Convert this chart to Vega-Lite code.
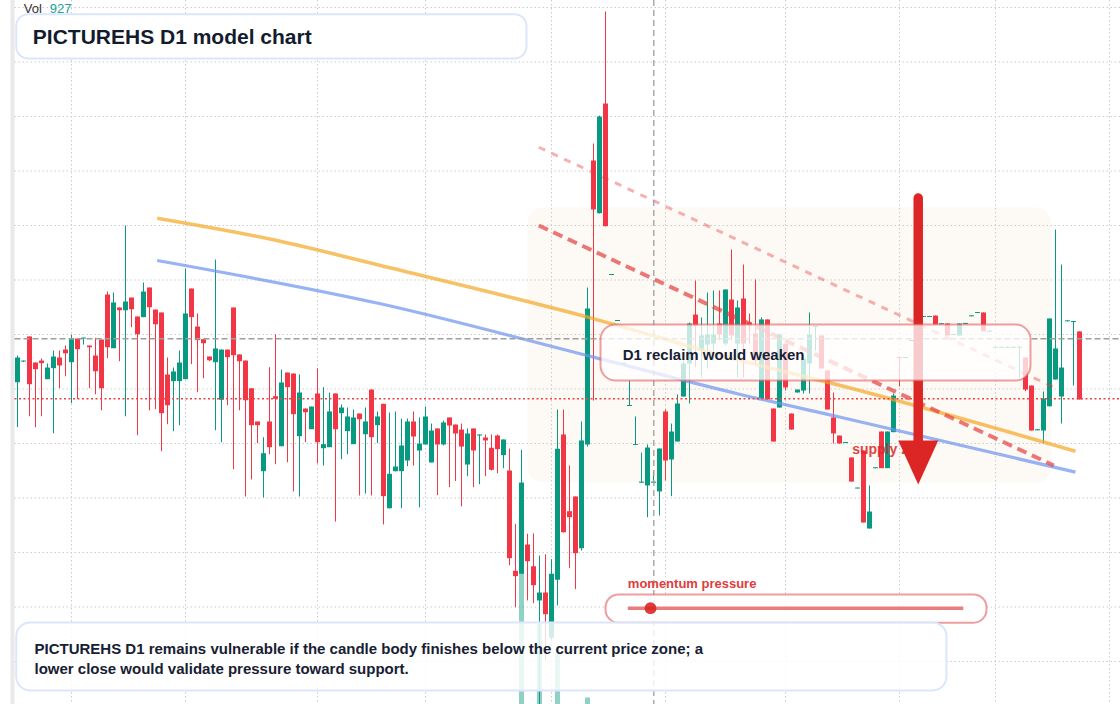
{
"$schema": "https://vega.github.io/schema/vega-lite/v6.json",
"width": 1120, "height": 704,
"autosize": {"type": "none"},
"padding": 0,
"background": "#ffffff",
"config": {"view": {"stroke": null}, "scale": {"continuousPadding": 0}, "axis": {"disable": true, "grid": false, "labels": false, "ticks": false, "domain": false, "title": null}},
"data": {"values": [{}]},
"datasets": {
"candles": [
{"t":0,"o":6.062,"h":6.307,"l":5.65,"c":6.289},{"t":1,"o":6.252,"h":6.261,"l":6.246,"c":6.261},{"t":2,"o":6.482,"h":6.482,"l":5.75,"c":6.044},{"t":3,"o":6.243,"h":6.243,"l":5.65,"c":6.182},{"t":4,"o":6.261,"h":6.28,"l":5.75,"c":6.237},{"t":5,"o":6.09,"h":6.234,"l":6.09,"c":6.197},{"t":6,"o":6.191,"h":6.353,"l":5.594,"c":6.298},{"t":7,"o":6.289,"h":6.353,"l":6.007,"c":6.216},{"t":8,"o":6.362,"h":6.399,"l":6.117,"c":6.328},{"t":9,"o":6.246,"h":6.497,"l":5.87,"c":6.457},
{"t":10,"o":6.463,"h":6.463,"l":5.91,"c":6.365},{"t":11,"o":6.463,"h":6.472,"l":6.408,"c":6.472},{"t":12,"o":6.399,"h":6.399,"l":6.007,"c":6.383},{"t":13,"o":6.307,"h":6.47,"l":5.952,"c":6.163},{"t":14,"o":6.454,"h":6.454,"l":5.805,"c":6.007},{"t":15,"o":6.867,"h":6.894,"l":6.283,"c":6.383},{"t":16,"o":6.374,"h":6.885,"l":6.374,"c":6.794},{"t":17,"o":6.748,"h":6.748,"l":6.255,"c":6.723},{"t":18,"o":6.723,"h":7.5,"l":5.75,"c":6.803},{"t":19,"o":6.839,"h":6.839,"l":6.567,"c":6.732},
{"t":20,"o":6.665,"h":6.665,"l":5.576,"c":6.503},{"t":21,"o":6.659,"h":6.977,"l":6.659,"c":6.894},{"t":22,"o":6.931,"h":6.931,"l":5.805,"c":6.75},{"t":23,"o":6.729,"h":6.729,"l":5.815,"c":6.594},{"t":24,"o":6.702,"h":6.702,"l":5.429,"c":5.778},{"t":25,"o":6.133,"h":6.289,"l":5.677,"c":5.851},{"t":26,"o":6.072,"h":6.197,"l":5.613,"c":6.161},{"t":27,"o":6.072,"h":6.353,"l":5.668,"c":6.243},{"t":28,"o":6.09,"h":7.106,"l":6.09,"c":6.693},{"t":29,"o":6.922,"h":6.922,"l":6.228,"c":6.659},
{"t":30,"o":6.573,"h":6.693,"l":5.971,"c":6.448},{"t":31,"o":6.457,"h":6.457,"l":6.099,"c":6.42},{"t":32,"o":6.298,"h":6.298,"l":6.255,"c":6.264},{"t":33,"o":6.246,"h":7.188,"l":5.622,"c":6.372},{"t":34,"o":5.901,"h":6.362,"l":5.512,"c":6.362},{"t":35,"o":6.362,"h":6.362,"l":5.851,"c":6.292},{"t":36,"o":6.748,"h":6.748,"l":5.264,"c":6.31},{"t":37,"o":6.317,"h":6.317,"l":5.805,"c":6.255},{"t":38,"o":6.261,"h":6.261,"l":5.014,"c":5.897},{"t":39,"o":6.007,"h":6.007,"l":5.17,"c":5.668},
{"t":40,"o":5.702,"h":5.702,"l":5.503,"c":5.668},{"t":41,"o":5.246,"h":5.558,"l":5.005,"c":5.411},{"t":42,"o":5.702,"h":6.2,"l":5.402,"c":5.466},{"t":43,"o":5.934,"h":6.5,"l":5.31,"c":5.91},{"t":44,"o":5.475,"h":6.179,"l":5.475,"c":6.06},{"t":45,"o":6.151,"h":6.151,"l":5.328,"c":6.017},{"t":46,"o":6.142,"h":6.142,"l":5.06,"c":5.769},{"t":47,"o":5.567,"h":6.133,"l":5.014,"c":5.968},{"t":48,"o":5.821,"h":5.821,"l":5.512,"c":5.787},{"t":49,"o":5.631,"h":5.839,"l":5.631,"c":5.839},
{"t":50,"o":5.959,"h":6.188,"l":5.317,"c":5.512},{"t":51,"o":5.457,"h":6.017,"l":5.298,"c":5.494},{"t":52,"o":5.466,"h":5.968,"l":5.466,"c":5.794},{"t":53,"o":5.959,"h":5.959,"l":4.784,"c":5.631},{"t":54,"o":5.778,"h":5.858,"l":5.356,"c":5.83},{"t":55,"o":5.613,"h":5.83,"l":5.402,"c":5.748},{"t":56,"o":5.494,"h":5.812,"l":5.494,"c":5.739},{"t":57,"o":5.775,"h":5.775,"l":5.023,"c":5.723},{"t":58,"o":5.585,"h":5.83,"l":5.041,"c":5.702},{"t":59,"o":5.995,"h":5.995,"l":5.023,"c":5.558},
{"t":60,"o":5.668,"h":5.794,"l":5.503,"c":5.748},{"t":61,"o":5.864,"h":5.864,"l":4.757,"c":5.017},{"t":62,"o":4.906,"h":5.784,"l":4.904,"c":5.222},{"t":63,"o":5.246,"h":5.794,"l":5.243,"c":5.289},{"t":64,"o":5.246,"h":5.729,"l":4.906,"c":5.482},{"t":65,"o":5.344,"h":5.729,"l":5.292,"c":5.702},{"t":66,"o":5.702,"h":5.794,"l":5.298,"c":5.564},{"t":67,"o":5.436,"h":5.739,"l":4.914,"c":5.5},{"t":68,"o":5.491,"h":5.839,"l":5.491,"c":5.748},{"t":69,"o":5.326,"h":5.683,"l":5.326,"c":5.619},
{"t":70,"o":5.638,"h":5.638,"l":5.026,"c":5.491},{"t":71,"o":5.491,"h":5.711,"l":5.482,"c":5.693},{"t":72,"o":5.739,"h":5.739,"l":5.099,"c":5.665},{"t":73,"o":5.674,"h":5.674,"l":5.156,"c":5.592},{"t":74,"o":5.628,"h":5.683,"l":4.924,"c":5.472},{"t":75,"o":5.307,"h":5.638,"l":5.2,"c":5.592},{"t":76,"o":5.638,"h":5.638,"l":5.099,"c":5.436},{"t":77,"o":5.573,"h":5.583,"l":5.127,"c":5.583},{"t":78,"o":5.555,"h":5.583,"l":5.2,"c":5.528},{"t":79,"o":5.461,"h":5.583,"l":5.252,"c":5.259},
{"t":80,"o":5.573,"h":5.583,"l":5.227,"c":5.448},{"t":81,"o":5.393,"h":5.537,"l":5.274,"c":5.537},{"t":82,"o":5.252,"h":5.454,"l":4.383,"c":4.448},{"t":83,"o":4.332,"h":4.763,"l":3.998,"c":4.283},{"t":84,"o":4.305,"h":5.442,"l":4.305,"c":5.142,"v":20450},{"t":85,"o":4.573,"h":4.672,"l":4.06,"c":4.42},{"t":86,"o":4.374,"h":4.675,"l":4.035,"c":4.2},{"t":87,"o":4.06,"h":4.472,"l":3.11,"c":4.133,"v":11360},{"t":88,"o":4.133,"h":4.482,"l":3.509,"c":3.934},{"t":89,"o":3.718,"h":4.439,"l":3.693,"c":4.305},
{"t":90,"o":4.25,"h":5.812,"l":4.014,"c":5.451,"v":7240},{"t":91,"o":5.583,"h":5.812,"l":4.683,"c":4.686},{"t":92,"o":4.879,"h":5.298,"l":4.356,"c":4.824},{"t":93,"o":5.014,"h":5.014,"l":4.164,"c":4.494},{"t":94,"o":4.539,"h":5.702,"l":4.518,"c":5.528},{"t":95,"o":5.491,"h":6.931,"l":5.472,"c":6.739,"v":927},{"t":96,"o":8.096,"h":8.252,"l":5.894,"c":7.647},{"t":97,"o":7.613,"h":8.509,"l":7.61,"c":8.5},{"t":98,"o":8.619,"h":9.463,"l":7.491,"c":7.494},{"t":99,"o":7.046,"h":7.055,"l":7.046,"c":7.055},
{"t":100,"o":6.624,"h":6.633,"l":6.624,"c":6.633},{"t":101,"o":6.229,"h":6.239,"l":6.229,"c":6.239},{"t":102,"o":5.844,"h":6.078,"l":5.844,"c":5.853},{"t":103,"o":5.486,"h":5.748,"l":5.486,"c":5.495},{"t":104,"o":5.14,"h":5.417,"l":5.14,"c":5.15},{"t":105,"o":5.115,"h":5.491,"l":4.824,"c":5.463},{"t":106,"o":5.14,"h":5.252,"l":5.14,"c":5.15},{"t":107,"o":5.06,"h":5.454,"l":4.839,"c":5.454},{"t":108,"o":5.794,"h":5.812,"l":5.161,"c":5.344},{"t":109,"o":5.353,"h":5.683,"l":5.017,"c":5.61},
{"t":110,"o":5.518,"h":5.95,"l":5.518,"c":5.867},{"t":111,"o":5.931,"h":6.261,"l":5.931,"c":6.234},{"t":112,"o":6.234,"h":6.61,"l":5.867,"c":6.601},{"t":113,"o":6.683,"h":6.995,"l":6.2,"c":6.583},{"t":114,"o":6.353,"h":6.656,"l":6.108,"c":6.491},{"t":115,"o":6.408,"h":6.885,"l":6.188,"c":6.5},{"t":116,"o":6.417,"h":6.904,"l":6.261,"c":6.5},{"t":117,"o":6.601,"h":6.904,"l":6.445,"c":6.5},{"t":118,"o":6.417,"h":6.913,"l":6.399,"c":6.913},{"t":119,"o":6.821,"h":7.28,"l":6.445,"c":6.491},
{"t":120,"o":6.417,"h":6.812,"l":6.106,"c":6.748},{"t":121,"o":6.83,"h":7.142,"l":6.106,"c":6.417},{"t":122,"o":6.61,"h":6.693,"l":6.417,"c":6.589},{"t":123,"o":6.509,"h":7.005,"l":6.216,"c":6.261},{"t":124,"o":5.913,"h":6.656,"l":5.913,"c":6.638},{"t":125,"o":6.638,"h":6.638,"l":5.904,"c":5.904},{"t":126,"o":5.821,"h":5.821,"l":5.518,"c":5.518},{"t":127,"o":5.83,"h":6.509,"l":5.83,"c":6.5},{"t":128,"o":6.417,"h":6.417,"l":5.986,"c":6.014},{"t":129,"o":5.775,"h":5.775,"l":5.628,"c":5.628},
{"t":130,"o":5.968,"h":5.995,"l":5.968,"c":5.995},{"t":131,"o":5.986,"h":6.307,"l":5.959,"c":6.28},{"t":132,"o":6.234,"h":6.702,"l":5.959,"c":6.5},{"t":133,"o":6.569,"h":6.578,"l":6.353,"c":6.578},{"t":134,"o":6.491,"h":6.491,"l":6.188,"c":6.188},{"t":135,"o":6.17,"h":6.17,"l":5.812,"c":5.812},{"t":136,"o":5.739,"h":5.968,"l":5.5,"c":5.592},{"t":137,"o":5.573,"h":5.573,"l":5.5,"c":5.5},{"t":138,"o":5.505,"h":5.514,"l":5.505,"c":5.514},{"t":139,"o":5.372,"h":5.372,"l":5.151,"c":5.151},
{"t":140,"o":5.087,"h":5.096,"l":5.087,"c":5.096},{"t":141,"o":5.436,"h":5.436,"l":4.775,"c":4.775},{"t":142,"o":4.72,"h":5.115,"l":4.72,"c":4.876},{"t":143,"o":5.273,"h":5.282,"l":5.273,"c":5.282},{"t":144,"o":5.61,"h":5.61,"l":5.274,"c":5.274},{"t":145,"o":5.274,"h":5.61,"l":5.274,"c":5.61},{"t":146,"o":5.604,"h":5.959,"l":5.604,"c":5.94},{"t":147,"o":6.294,"h":6.298,"l":6.023,"c":6.284},{"t":148,"o":6.284,"h":6.294,"l":6.284,"c":6.294},{"t":149,"o":6.44,"h":6.45,"l":6.44,"c":6.45},
{"t":150,"o":6.661,"h":6.67,"l":6.661,"c":6.67},{"t":151,"o":6.661,"h":6.67,"l":6.661,"c":6.67},{"t":152,"o":6.661,"h":6.67,"l":6.661,"c":6.67},{"t":153,"o":6.674,"h":6.674,"l":6.592,"c":6.592},{"t":154,"o":6.594,"h":6.604,"l":6.594,"c":6.604},{"t":155,"o":6.601,"h":6.601,"l":6.491,"c":6.491},{"t":156,"o":6.495,"h":6.505,"l":6.495,"c":6.505},{"t":157,"o":6.491,"h":6.601,"l":6.491,"c":6.601},{"t":158,"o":6.596,"h":6.606,"l":6.596,"c":6.606},{"t":159,"o":6.667,"h":6.676,"l":6.667,"c":6.676},
{"t":160,"o":6.697,"h":6.706,"l":6.697,"c":6.706},{"t":161,"o":6.702,"h":6.702,"l":6.53,"c":6.53},{"t":162,"o":6.526,"h":6.535,"l":6.526,"c":6.535},{"t":163,"o":6.379,"h":6.388,"l":6.379,"c":6.388},{"t":164,"o":6.379,"h":6.388,"l":6.379,"c":6.388},{"t":165,"o":6.379,"h":6.388,"l":6.379,"c":6.388},{"t":166,"o":6.379,"h":6.388,"l":6.379,"c":6.388},{"t":167,"o":6.379,"h":6.388,"l":6.106,"c":6.388},{"t":168,"o":6.289,"h":6.289,"l":5.98,"c":5.995},{"t":169,"o":6.032,"h":6.032,"l":5.619,"c":5.619},
{"t":170,"o":5.621,"h":5.631,"l":5.621,"c":5.631},{"t":171,"o":5.619,"h":5.977,"l":5.503,"c":5.913},{"t":172,"o":5.842,"h":6.647,"l":5.839,"c":6.647},{"t":173,"o":6.087,"h":7.463,"l":6.087,"c":6.372},{"t":174,"o":5.931,"h":7.142,"l":5.683,"c":6.197},{"t":175,"o":6.621,"h":6.63,"l":6.621,"c":6.63},{"t":176,"o":6.615,"h":6.624,"l":6.032,"c":6.624},{"t":177,"o":6.528,"h":6.528,"l":5.904,"c":5.904}
],
"gy": [{"p":3.5},{"p":4.0},{"p":4.5},{"p":5.0},{"p":5.5},{"p":6.0},{"p":6.5},{"p":7.0},{"p":7.5},{"p":8.0},{"p":8.5},{"p":9.0},{"p":9.5}],
"gx": [{"t":9},{"t":28},{"t":50},{"t":68},{"t":89},{"t":108},{"t":128},{"t":147},{"t":163},{"t":182}],
"ma_upper": [{"t":23.28,"p":7.567},{"t":42.67,"p":7.369},{"t":60.5,"p":7.133},{"t":95.5,"p":6.653},{"t":120.5,"p":6.261},{"t":137.17,"p":6.032},{"t":176.33,"p":5.429}],
"ma_lower": [{"t":23.28,"p":7.179},{"t":60.5,"p":6.782},{"t":96.0,"p":6.292},{"t":120.5,"p":5.95},{"t":137.17,"p":5.741},{"t":176.33,"p":5.237}],
"chan_hi": [{"t":86.88,"p":8.218},{"t":172.72,"p":6.017}],
"chan_lo": [{"t":86.88,"p":7.5},{"t":172.72,"p":5.298}]
},
"resolve": {"scale": {"y": "independent"}},
"layer": [
{"mark": {"type": "rect", "color": "#e9e9e9"},
 "encoding": {"x": {"datum": -1.1667, "type": "quantitative", "scale": {"domain": [-2.9167, 183.75], "nice": false, "zero": false, "padding": 0}}, "x2": {"datum": -0.5},
  "y": {"datum": 3.1101, "type": "quantitative", "scale": {"domain": [3.1101, 9.5688], "nice": false, "zero": false}}, "y2": {"datum": 9.5688}}},
{"mark": {"type": "rect", "fill": "#fbf5ef", "fillOpacity": 0.6, "cornerRadius": 16},
 "encoding": {"x": {"datum": 85.0, "type": "quantitative", "scale": {"domain": [-2.9167, 183.75], "nice": false, "zero": false, "padding": 0}}, "x2": {"datum": 172.33},
  "y": {"datum": 5.142, "type": "quantitative", "scale": {"domain": [3.1101, 9.5688], "nice": false, "zero": false}}, "y2": {"datum": 7.665}}},
{"data": {"name": "gy"},
 "mark": {"type": "rule", "color": "#cccccc", "strokeWidth": 1, "strokeDash": [1.5, 2.5]},
 "encoding": {"y": {"field": "p", "type": "quantitative", "scale": {"domain": [3.1101, 9.5688], "nice": false, "zero": false}},
  "x": {"datum": -0.5, "type": "quantitative", "scale": {"domain": [-2.9167, 183.75], "nice": false, "zero": false, "padding": 0}}, "x2": {"datum": 183.75}}},
{"data": {"name": "gx"},
 "mark": {"type": "rule", "color": "#cccccc", "strokeWidth": 1, "strokeDash": [1.5, 2.5]},
 "encoding": {"x": {"field": "t", "type": "quantitative", "scale": {"domain": [-2.9167, 183.75], "nice": false, "zero": false, "padding": 0}}}},
{"data": {"name": "candles"},
 "transform": [{"filter": "isValid(datum.v)"}],
 "mark": {"type": "bar", "width": 5, "opacity": 0.45},
 "encoding": {"x": {"field": "t", "type": "quantitative", "scale": {"domain": [-2.9167, 183.75], "nice": false, "zero": false, "padding": 0}},
  "y": {"field": "v", "type": "quantitative", "scale": {"domain": [0, 100000], "nice": false, "zero": true}},
  "color": {"condition": {"test": "datum.c >= datum.o", "value": "#089981"}, "value": "#f23645"}}},
{"data": {"name": "candles"},
 "mark": {"type": "rule", "strokeWidth": 1},
 "encoding": {"x": {"field": "t", "type": "quantitative", "scale": {"domain": [-2.9167, 183.75], "nice": false, "zero": false, "padding": 0}},
  "y": {"field": "h", "type": "quantitative", "scale": {"domain": [3.1101, 9.5688], "nice": false, "zero": false}}, "y2": {"field": "l"},
  "color": {"condition": {"test": "datum.c >= datum.o", "value": "#089981"}, "value": "#f23645"}}},
{"data": {"name": "candles"},
 "mark": {"type": "bar", "width": 5},
 "encoding": {"x": {"field": "t", "type": "quantitative", "scale": {"domain": [-2.9167, 183.75], "nice": false, "zero": false, "padding": 0}},
  "y": {"field": "o", "type": "quantitative", "scale": {"domain": [3.1101, 9.5688], "nice": false, "zero": false}}, "y2": {"field": "c"},
  "color": {"condition": {"test": "datum.c >= datum.o", "value": "#089981"}, "value": "#f23645"}}},
{"data": {"name": "ma_upper"},
 "mark": {"type": "line", "color": "#f5a623", "strokeWidth": 3.5, "opacity": 0.7, "interpolate": "monotone"},
 "encoding": {"x": {"field": "t", "type": "quantitative", "scale": {"domain": [-2.9167, 183.75], "nice": false, "zero": false, "padding": 0}},
  "y": {"field": "p", "type": "quantitative", "scale": {"domain": [3.1101, 9.5688], "nice": false, "zero": false}}}},
{"data": {"name": "ma_lower"},
 "mark": {"type": "line", "color": "#6b93f0", "strokeWidth": 3.2, "opacity": 0.7, "interpolate": "monotone"},
 "encoding": {"x": {"field": "t", "type": "quantitative", "scale": {"domain": [-2.9167, 183.75], "nice": false, "zero": false, "padding": 0}},
  "y": {"field": "p", "type": "quantitative", "scale": {"domain": [3.1101, 9.5688], "nice": false, "zero": false}}}},
{"data": {"name": "chan_hi"},
 "mark": {"type": "line", "color": "#e53e3e", "strokeWidth": 3, "opacity": 0.4, "strokeDash": [7, 7]},
 "encoding": {"x": {"field": "t", "type": "quantitative", "scale": {"domain": [-2.9167, 183.75], "nice": false, "zero": false, "padding": 0}},
  "y": {"field": "p", "type": "quantitative", "scale": {"domain": [3.1101, 9.5688], "nice": false, "zero": false}}}},
{"data": {"name": "chan_lo"},
 "mark": {"type": "line", "color": "#e53e3e", "strokeWidth": 4, "opacity": 0.7, "strokeDash": [10, 6]},
 "encoding": {"x": {"field": "t", "type": "quantitative", "scale": {"domain": [-2.9167, 183.75], "nice": false, "zero": false, "padding": 0}},
  "y": {"field": "p", "type": "quantitative", "scale": {"domain": [3.1101, 9.5688], "nice": false, "zero": false}}}},
{"mark": {"type": "rule", "color": "#9e9e9e", "strokeWidth": 1.5, "strokeDash": [6, 3]},
 "encoding": {"y": {"datum": 6.461, "type": "quantitative", "scale": {"domain": [3.1101, 9.5688], "nice": false, "zero": false}},
  "x": {"datum": -0.5, "type": "quantitative", "scale": {"domain": [-2.9167, 183.75], "nice": false, "zero": false, "padding": 0}}, "x2": {"datum": 183.75}}},
{"mark": {"type": "rule", "color": "#ef4444", "strokeWidth": 1.5, "strokeDash": [2, 2.5]},
 "encoding": {"y": {"datum": 5.91, "type": "quantitative", "scale": {"domain": [3.1101, 9.5688], "nice": false, "zero": false}},
  "x": {"datum": -0.5, "type": "quantitative", "scale": {"domain": [-2.9167, 183.75], "nice": false, "zero": false, "padding": 0}}, "x2": {"datum": 183.75}}},
{"mark": {"type": "rule", "color": "#9e9e9e", "strokeWidth": 1.3, "strokeDash": [6, 4]},
 "encoding": {"x": {"datum": 106.05, "type": "quantitative", "scale": {"domain": [-2.9167, 183.75], "nice": false, "zero": false, "padding": 0}}}},
{"mark": {"type": "text", "text": "supply zone", "font": "Liberation Sans", "fontSize": 14, "fontWeight": "bold", "align": "left", "baseline": "alphabetic", "color": "#dc2626", "opacity": 0.85},
 "encoding": {"x": {"datum": 139.12, "type": "quantitative", "scale": {"domain": [-2.9167, 183.75], "nice": false, "zero": false, "padding": 0}},
  "y": {"datum": 5.408, "type": "quantitative", "scale": {"domain": [3.1101, 9.5688], "nice": false, "zero": false}}}},
{"mark": {"type": "rule", "color": "#dc2626", "strokeWidth": 9.5, "strokeCap": "round"},
 "encoding": {"x": {"datum": 150.12, "type": "quantitative", "scale": {"domain": [-2.9167, 183.75], "nice": false, "zero": false, "padding": 0}},
  "y": {"datum": 7.752, "type": "quantitative", "scale": {"domain": [3.1101, 9.5688], "nice": false, "zero": false}}, "y2": {"datum": 5.436}}},
{"mark": {"type": "point", "shape": "M-1,-1.1L1,-1.1L0,1.1Z", "size": 1600, "filled": true, "color": "#dc2626", "opacity": 1, "strokeWidth": 0},
 "encoding": {"x": {"datum": 150.12, "type": "quantitative", "scale": {"domain": [-2.9167, 183.75], "nice": false, "zero": false, "padding": 0}},
  "y": {"datum": 5.326, "type": "quantitative", "scale": {"domain": [3.1101, 9.5688], "nice": false, "zero": false}}}},
{"mark": {"type": "rect", "fill": "#ffffff", "fillOpacity": 0.76, "stroke": "#e05252", "strokeOpacity": 0.55, "strokeWidth": 2, "cornerRadius": 15},
 "encoding": {"x": {"datum": 97.17, "type": "quantitative", "scale": {"domain": [-2.9167, 183.75], "nice": false, "zero": false, "padding": 0}}, "x2": {"datum": 168.83},
  "y": {"datum": 6.078, "type": "quantitative", "scale": {"domain": [3.1101, 9.5688], "nice": false, "zero": false}}, "y2": {"datum": 6.592}}},
{"mark": {"type": "text", "text": "D1 reclaim would weaken", "font": "Liberation Sans", "fontSize": 15, "fontWeight": "bold", "align": "left", "baseline": "alphabetic", "color": "#172033"},
 "encoding": {"x": {"datum": 100.88, "type": "quantitative", "scale": {"domain": [-2.9167, 183.75], "nice": false, "zero": false, "padding": 0}},
  "y": {"datum": 6.263, "type": "quantitative", "scale": {"domain": [3.1101, 9.5688], "nice": false, "zero": false}}}},
{"mark": {"type": "text", "text": "momentum pressure", "font": "Liberation Sans", "fontSize": 13, "fontWeight": "bold", "align": "left", "baseline": "alphabetic", "color": "#e03c3c"},
 "encoding": {"x": {"datum": 101.72, "type": "quantitative", "scale": {"domain": [-2.9167, 183.75], "nice": false, "zero": false, "padding": 0}},
  "y": {"datum": 4.172, "type": "quantitative", "scale": {"domain": [3.1101, 9.5688], "nice": false, "zero": false}}}},
{"mark": {"type": "rect", "fill": "#ffffff", "fillOpacity": 0.85, "stroke": "#e35d5d", "strokeOpacity": 0.6, "strokeWidth": 2, "cornerRadius": 13},
 "encoding": {"x": {"datum": 98.0, "type": "quantitative", "scale": {"domain": [-2.9167, 183.75], "nice": false, "zero": false, "padding": 0}}, "x2": {"datum": 161.5},
  "y": {"datum": 3.856, "type": "quantitative", "scale": {"domain": [3.1101, 9.5688], "nice": false, "zero": false}}, "y2": {"datum": 4.115}}},
{"mark": {"type": "rule", "color": "#dc2626", "strokeWidth": 3.5, "opacity": 0.6},
 "encoding": {"x": {"datum": 101.72, "type": "quantitative", "scale": {"domain": [-2.9167, 183.75], "nice": false, "zero": false, "padding": 0}}, "x2": {"datum": 157.62},
  "y": {"datum": 3.989, "type": "quantitative", "scale": {"domain": [3.1101, 9.5688], "nice": false, "zero": false}}}},
{"mark": {"type": "point", "shape": "circle", "size": 140, "filled": true, "color": "#dc2626", "opacity": 0.9, "strokeWidth": 0},
 "encoding": {"x": {"datum": 105.5, "type": "quantitative", "scale": {"domain": [-2.9167, 183.75], "nice": false, "zero": false, "padding": 0}},
  "y": {"datum": 3.989, "type": "quantitative", "scale": {"domain": [3.1101, 9.5688], "nice": false, "zero": false}}}},
{"mark": {"type": "rect", "fill": "#ffffff", "fillOpacity": 0.82, "stroke": "#dbe6fa", "strokeWidth": 2, "cornerRadius": 14},
 "encoding": {"x": {"datum": -0.217, "type": "quantitative", "scale": {"domain": [-2.9167, 183.75], "nice": false, "zero": false, "padding": 0}}, "x2": {"datum": 154.83},
  "y": {"datum": 3.234, "type": "quantitative", "scale": {"domain": [3.1101, 9.5688], "nice": false, "zero": false}}, "y2": {"datum": 3.858}}},
{"mark": {"type": "text", "text": ["PICTUREHS D1 remains vulnerable if the candle body finishes below the current price zone; a", "lower close would validate pressure toward support."], "lineHeight": 20, "font": "Liberation Sans", "fontSize": 15, "fontWeight": "bold", "align": "left", "baseline": "alphabetic", "color": "#172033"},
 "encoding": {"x": {"datum": 2.833, "type": "quantitative", "scale": {"domain": [-2.9167, 183.75], "nice": false, "zero": false, "padding": 0}},
  "y": {"datum": 3.571, "type": "quantitative", "scale": {"domain": [3.1101, 9.5688], "nice": false, "zero": false}}}},
{"mark": {"type": "rect", "fill": "#ffffff", "stroke": "#dbe6fa", "strokeWidth": 2, "cornerRadius": 12},
 "encoding": {"x": {"datum": -0.217, "type": "quantitative", "scale": {"domain": [-2.9167, 183.75], "nice": false, "zero": false, "padding": 0}}, "x2": {"datum": 84.83},
  "y": {"datum": 9.032, "type": "quantitative", "scale": {"domain": [3.1101, 9.5688], "nice": false, "zero": false}}, "y2": {"datum": 9.439}}},
{"mark": {"type": "text", "text": "PICTUREHS D1 model chart", "font": "Liberation Sans", "fontSize": 21, "fontWeight": "bold", "align": "left", "baseline": "alphabetic", "color": "#131c2e"},
 "encoding": {"x": {"datum": 2.55, "type": "quantitative", "scale": {"domain": [-2.9167, 183.75], "nice": false, "zero": false, "padding": 0}},
  "y": {"datum": 9.167, "type": "quantitative", "scale": {"domain": [3.1101, 9.5688], "nice": false, "zero": false}}}},
{"mark": {"type": "text", "text": "Vol", "font": "Liberation Sans", "fontSize": 13, "align": "left", "baseline": "alphabetic", "color": "#333333"},
 "encoding": {"x": {"datum": 1.05, "type": "quantitative", "scale": {"domain": [-2.9167, 183.75], "nice": false, "zero": false, "padding": 0}},
  "y": {"datum": 9.448, "type": "quantitative", "scale": {"domain": [3.1101, 9.5688], "nice": false, "zero": false}}}},
{"mark": {"type": "text", "text": "927", "font": "Liberation Sans", "fontSize": 13, "align": "left", "baseline": "alphabetic", "color": "#22a394"},
 "encoding": {"x": {"datum": 5.39, "type": "quantitative", "scale": {"domain": [-2.9167, 183.75], "nice": false, "zero": false, "padding": 0}},
  "y": {"datum": 9.448, "type": "quantitative", "scale": {"domain": [3.1101, 9.5688], "nice": false, "zero": false}}}}
]
}
